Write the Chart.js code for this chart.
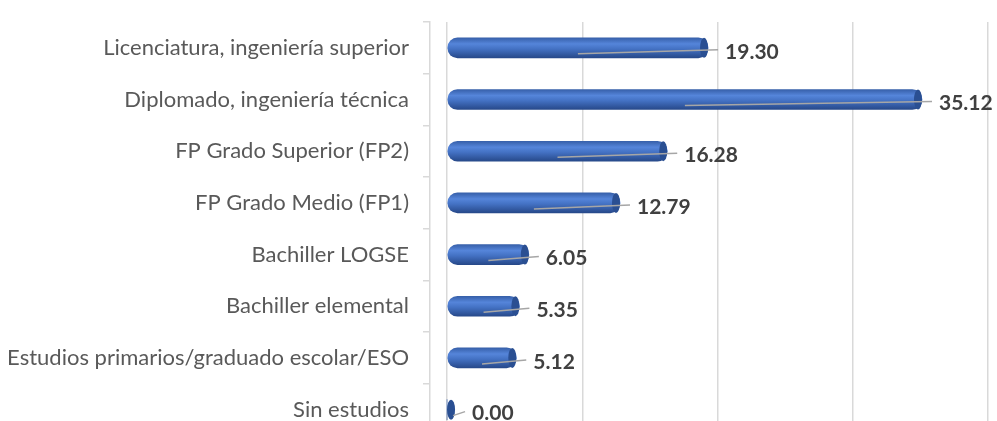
<!DOCTYPE html>
<html>
<head>
<meta charset="utf-8">
<script src="https://cdn.jsdelivr.net/npm/chart.js@4.4.0/dist/chart.umd.min.js"></script>
<style>
  html, body { margin: 0; padding: 0; background: #fff; overflow: hidden; }
  #wrap { width: 997px; height: 421px; }
</style>
</head>
<body>
<div id="wrap"><canvas id="one"></canvas></div>
<script>
// data
const categorias = [
  'Licenciatura, ingeniería superior',
  'Diplomado, ingeniería técnica',
  'FP Grado Superior (FP2)',
  'FP Grado Medio (FP1)',
  'Bachiller LOGSE',
  'Bachiller elemental',
  'Estudios primarios/graduado escolar/ESO',
  'Sin estudios'
]
const valores = [19.30, 35.12, 16.28, 12.79, 6.05, 5.35, 5.12, 0.00]
const gridTicks = [0, 10, 20, 30, 40]

const one = document.getElementById('one')

// gradient across the bar height to fake the cylinder
function cylinder(ctx) {
  const chart = ctx.chart
  const y = chart.scales.y
  if (!y || ctx.dataIndex === undefined) return '#4472C4'
  const cy = y.getPixelForValue(ctx.dataIndex)
  if (!isFinite(cy)) return '#4472C4'
  const g = chart.ctx.createLinearGradient(0, cy - 10, 0, cy + 10)
  g.addColorStop(0, '#3760AA')
  g.addColorStop(0.3, '#5585DA')
  g.addColorStop(0.55, '#4472C4')
  g.addColorStop(1, '#27498A')
  return g
}

// end caps + leader lines + value labels
const labelsPlugin = {
  id: 'labels',
  afterDatasetsDraw(chart) {
    const c = chart.ctx
    const meta = chart.getDatasetMeta(0)
    meta.data.forEach(function(bar, i) {
      const x = bar.x, y = bar.y, base = bar.base
      const capX = valores[i] === 0 ? base + 4 : x - 4
      c.save()
      // darker cap at the end of the cylinder
      c.fillStyle = '#2A4F92'
      c.beginPath()
      c.ellipse(capX, y, 4, 10, 0, 0, Math.PI * 2)
      c.fill()
      // leader line
      const from = valores[i] === 0 ? base + 6 : (base + x) / 2
      const to = Math.max(x, capX + 4) + 10
      c.strokeStyle = '#a6a6a6'
      c.lineWidth = 1.5
      c.beginPath()
      c.moveTo(from, y + 6)
      c.lineTo(to, y + 2)
      c.stroke()
      // value
      c.fillStyle = '#404040'
      c.font = 'bold 21px Lato'
      c.textBaseline = 'middle'
      c.fillText(valores[i].toFixed(2), to + 7, y + 4)
      c.restore()
    })
  }
}

new Chart(one, {
  type: 'bar',
  data: {
    labels: categorias,
    datasets: [{
      data: valores,
      backgroundColor: cylinder,
      barThickness: 20,
      borderRadius: 10,
      borderSkipped: false
    }]
  },
  options: {
    indexAxis: 'y',
    responsive: true,
    maintainAspectRatio: false,
    animation: false,
    layout: { padding: { top: 22, right: 9, bottom: 0, left: 0 } },
    plugins: { legend: { display: false }, tooltip: { enabled: false } },
    scales: {
      x: {
        min: -1.26,
        max: 40,
        afterBuildTicks: function(s) { s.ticks = gridTicks.map(v => ({ value: v })) },
        afterFit: function(s) { s.height = 0 },
        ticks: { display: false },
        grid: { color: '#d9d9d9', lineWidth: 1.5, drawTicks: false },
        border: { display: false }
      },
      y: {
        // last row runs a little past the bottom edge, like the original
        afterBuildTicks: function(s) { s._valueRange = 7.72 },
        afterFit: function(s) { s.width = 430; s.paddingTop = 0; s.paddingBottom = 0 },
        ticks: { color: '#595959', font: { family: 'Lato', size: 22 }, padding: 14 },
        grid: { offset: true, drawOnChartArea: false, tickLength: 7, color: '#d9d9d9', lineWidth: 1.5 },
        border: { color: '#d9d9d9', width: 1.5 }
      }
    }
  },
  plugins: [labelsPlugin]
})
</script>
</body>
</html>
